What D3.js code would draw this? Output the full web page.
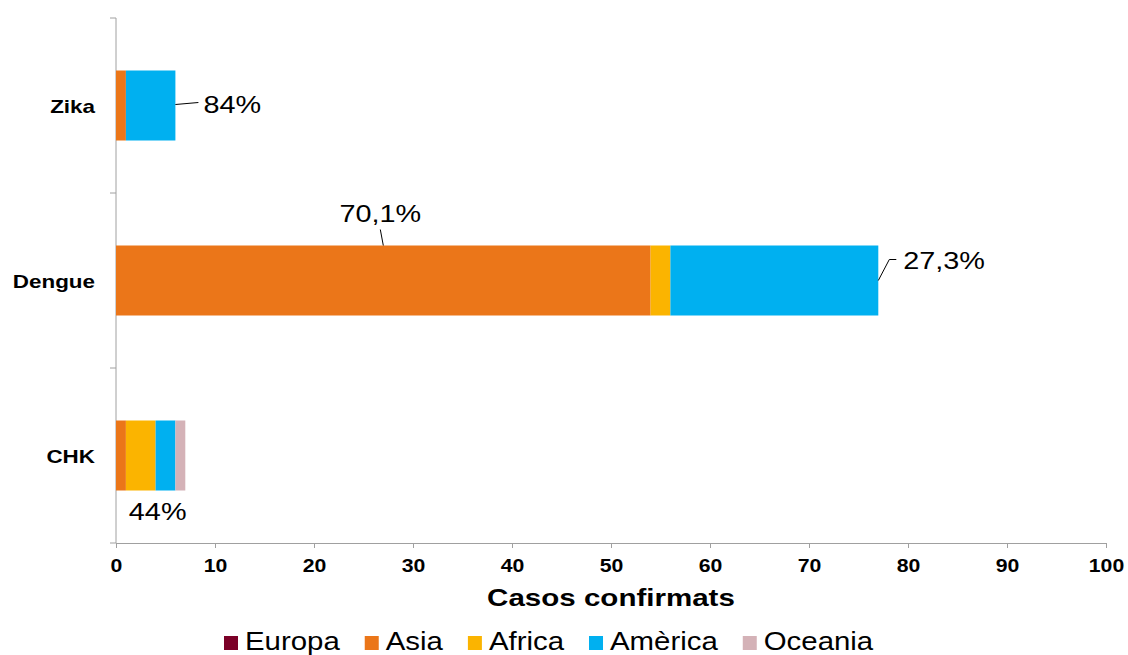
<!DOCTYPE html>
<html>
<head>
<meta charset="utf-8">
<script src="https://cdn.jsdelivr.net/npm/d3@7"></script>
<style>
  body { margin: 0; background: #fff; }
  svg { font-family: Arial, "Liberation Sans", sans-serif; }
</style>
</head>
<body>
<div id="chart"></div>
<script>
const categories = ["Zika", "Dengue", "CHK"];
const regions = ["Europa", "Asia", "Africa", "Amèrica", "Oceania"];
const europa = [0, 0, 0];
const asia = [1, 54, 1];
const africa = [0, 2, 3];
const america = [5, 21, 2];
const oceania = [0, 0, 1];
const xTicks = [0, 10, 20, 30, 40, 50, 60, 70, 80, 90, 100];
const colors = ["#7b0027", "#eb7619", "#fbb400", "#00b0f0", "#d4b2b7"];

const width = 1128, height = 655;
const margin = { top: 18, right: 22, bottom: 112, left: 116 };

// the original text is drawn a bit wider than plain Arial
function stretch(sel, k) {
    sel.each(function() {
        const len = this.getComputedTextLength();
        d3.select(this).attr("textLength", len * k).attr("lengthAdjust", "spacingAndGlyphs");
    });
}

const svg = d3.select("#chart")
    .append("svg")
    .attr("width", width)
    .attr("height", height);

const g = svg.append("g")
    .attr("transform", "translate(" + margin.left + "," + margin.top + ")");

const w = width - margin.left - margin.right,
    h = height - margin.top - margin.bottom;

const table = categories.map((c, i) => ({
    cat: c,
    "Europa": europa[i], "Asia": asia[i], "Africa": africa[i],
    "Amèrica": america[i], "Oceania": oceania[i]
}));
const stack = d3.stack().keys(regions)(table);

const x = d3.scaleLinear().domain([0, 100]).range([0, w]);
const y = d3.scaleBand().domain(categories).range([0, h]).paddingInner(0.6).paddingOuter(0.3);

// X axis
const xAxis = g.append("g")
    .attr("transform", "translate(0," + h + ")")
    .call(d3.axisBottom(x).tickValues(xTicks).tickSize(5).tickSizeOuter(0));
xAxis.select(".domain").attr("stroke", "#a0a0a0");
xAxis.selectAll(".tick line").attr("stroke", "#a0a0a0");
xAxis.selectAll("text")
    .attr("font-size", 18).attr("font-weight", "bold").attr("fill", "#000")
    .attr("y", 29).attr("dy", 0)
    .call(stretch, 1.18);

// Y axis with ticks at category boundaries
const yAxis = g.append("g");
yAxis.append("line")
    .attr("x1", 0).attr("x2", 0).attr("y1", 0).attr("y2", h)
    .attr("stroke", "#a0a0a0");
const bounds = d3.range(categories.length + 1).map(i => i * y.step());
yAxis.selectAll("line.b")
    .data(bounds)
    .enter().append("line")
    .attr("class", "b")
    .attr("x1", -6).attr("x2", 0)
    .attr("y1", d => d).attr("y2", d => d)
    .attr("stroke", "#a0a0a0");
yAxis.selectAll("text")
    .data(categories)
    .enter().append("text")
    .attr("x", -21)
    .attr("y", d => y(d) + y.bandwidth() / 2 + 7)
    .attr("text-anchor", "end")
    .attr("font-size", 19).attr("font-weight", "bold")
    .text(d => d)
    .call(stretch, 1.18);

// bars
g.selectAll("g.layer")
    .data(stack)
    .enter().append("g")
    .attr("class", "layer")
    .attr("fill", (d, i) => colors[i])
    .selectAll("rect")
    .data(d => d)
    .enter().append("rect")
    .attr("x", d => x(d[0]))
    .attr("y", d => y(d.data.cat))
    .attr("width", d => x(d[1]) - x(d[0]))
    .attr("height", y.bandwidth());

// axis title
g.append("text")
    .attr("x", w / 2)
    .attr("y", h + 63)
    .attr("text-anchor", "middle")
    .attr("font-size", 24).attr("font-weight", "bold")
    .text("Casos confirmats")
    .call(stretch, 1.23);

// data labels with leader lines (offsets in pixels from the bar)
const labels = [
    { text: "84%", cat: "Zika", v: 6, anchor: "start", tx: 28, ty: 7,
      path: [[0, -1], [23, -3]] },
    { text: "70,1%", cat: "Dengue", v: 27, anchor: "middle", tx: -3, ty: -59,
      path: [[0, -35], [-3, -51]] },
    { text: "27,3%", cat: "Dengue", v: 77, anchor: "start", tx: 25, ty: -12,
      path: [[0, 0], [11, -21], [18, -21]] },
    { text: "44%", cat: "CHK", v: 1.3, anchor: "start", tx: 0, ty: 64, path: null }
];
labels.forEach(l => {
    const bx = x(l.v);
    const cy = y(l.cat) + y.bandwidth() / 2;
    if (l.path) {
        g.append("path")
            .attr("d", d3.line()(l.path.map(p => [bx + p[0], cy + p[1]])))
            .attr("fill", "none").attr("stroke", "#000").attr("stroke-width", 1);
    }
    g.append("text")
        .attr("x", bx + l.tx)
        .attr("y", cy + l.ty)
        .attr("text-anchor", l.anchor)
        .attr("font-size", 24)
        .text(l.text)
        .call(stretch, 1.2);
});

// legend
const legend = svg.append("g").attr("transform", "translate(0,642)");
let lx = 224;
regions.forEach((r, i) => {
    const it = legend.append("g").attr("transform", "translate(" + lx + ",0)");
    it.append("rect").attr("x", 0).attr("y", -6).attr("width", 14).attr("height", 14).attr("fill", colors[i]);
    const t = it.append("text").attr("x", 21).attr("y", 8)
        .attr("font-size", 26).text(r)
        .call(stretch, 1.13);
    lx += 21 + (+t.attr("textLength")) + 25;
});
</script>
</body>
</html>
